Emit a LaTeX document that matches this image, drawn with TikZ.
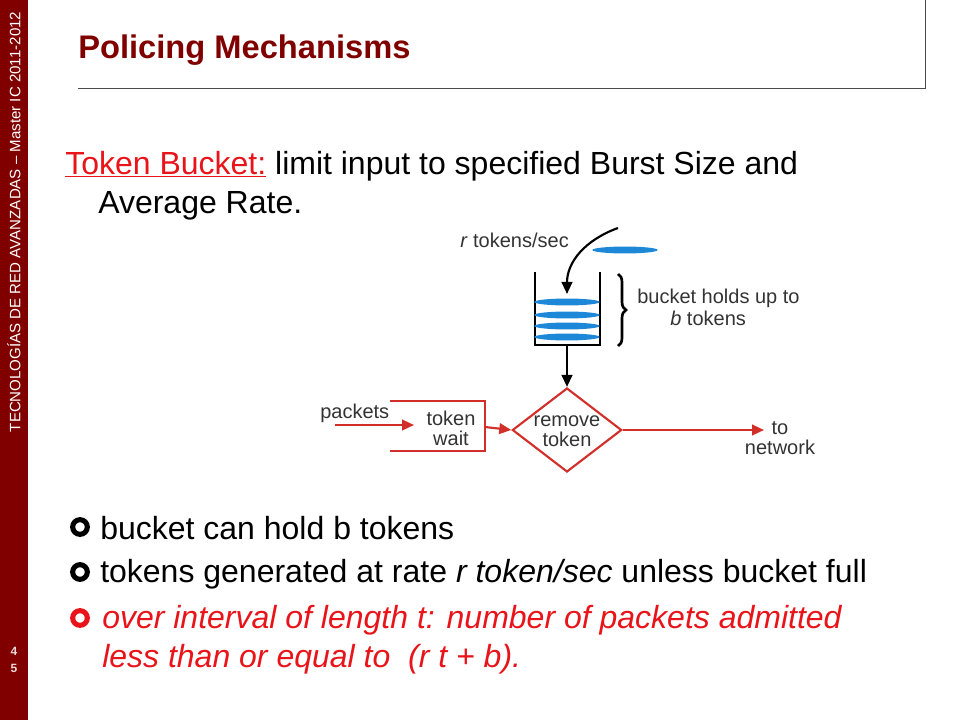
\documentclass[tikz,border=0pt]{standalone}
\usepackage{fontspec}
\setmainfont{Liberation Sans}
\usetikzlibrary{shapes.geometric,decorations.pathreplacing,arrows.meta}
\definecolor{dred}{HTML}{800000}
\definecolor{tred}{HTML}{E8141A}
\definecolor{dgr}{HTML}{D32F2A}
\definecolor{tblue}{HTML}{1E88D8}
\begin{document}
\begin{tikzpicture}[x=0.75pt,y=-0.75pt,
  body/.style={anchor=west,inner sep=0,font=\fontsize{24}{28}\selectfont},
  dlab/.style={inner sep=0,font=\fontsize{15}{15}\selectfont,text=black!80,align=center},
  bul/.style={circle,draw=#1,line width=3.8pt,minimum size=11pt,inner sep=0},
  tok/.style={ellipse,fill=tblue,minimum width=49pt,minimum height=5.2pt,inner sep=0},
  rarr/.style={draw=dgr,line width=1.6pt,-{Triangle[length=9pt,width=8pt]}},
  karr/.style={draw=black,line width=1.6pt,-{Triangle[length=9pt,width=8pt]}}]
\useasboundingbox (0,0) rectangle (960,720);
\fill[dred] (0,0) rectangle (28,720);
\node[rotate=90,text=white,inner sep=0,font=\fontsize{11.3}{13}\selectfont] (side) at (14,222) {TECNOLOGÍAS DE RED AVANZADAS – Master IC 2011-2012};
\node[text=white!85!dred,align=center,inner sep=0,font=\bfseries\fontsize{9}{13}\selectfont] (pg) at (14,660) {4\\5};
\node[anchor=west,inner sep=0,text=dred,font=\bfseries\fontsize{24.5}{28}\selectfont] (title) at (78,50) {Policing Mechanisms};
\draw[black!70] (78,88) -- (925,88) -- (925,0);
\node[body] (l1) at (65,166) {\textcolor{tred}{\underline{Token Bucket:}} limit input to specified Burst Size and};
\node[body] (l2) at (98,206) {Average Rate.};
% diagram
\node[dlab,anchor=west] (rt) at (460,240) {\textit{r} tokens/sec};
\node[tok] (t0) at (625,250) {};
\draw[line width=2pt] (535,272) -- (535,345) -- (600,345) -- (600,272);
\node[tok] (t1) at (567,302) {};
\node[tok] (t2) at (567,315) {};
\node[tok] (t3) at (567,326) {};
\node[tok] (t4) at (567,337) {};
\coordinate (cs) at (618,228);
\coordinate (ce) at (567,294);
\draw[karr] (cs) .. controls (585,240) and (567,262) .. (ce);
\draw[line width=2pt,decorate,decoration={brace,amplitude=6pt}] (618,274) -- (618,346);
\node[dlab,anchor=west] (bh) at (637,298) {bucket holds up to};
\node[dlab,anchor=west] (bt) at (670,318) {\textit{b} tokens};
\node[diamond,draw=dgr,line width=1.6pt,minimum width=82pt,minimum height=63pt,inner sep=0] (rm) at (567,430) {};
\node[dlab] (rmt) at (567,431) {remove\\token};
\coordinate (bb) at (567,345);
\draw[karr] (bb) -- (rm.north);
\draw[dgr,line width=1.6pt] (390,401) -- (485,401) -- (485,451) -- (390,451);
\coordinate (pin) at (335,425);
\coordinate (pend) at (414,425);
\draw[rarr] (pin) -- (pend);
\node[dlab,anchor=west] (pk) at (320,413) {packets};
\node[dlab] (tw) at (451,428) {token\\wait};
\coordinate (wout) at (485,427);
\draw[rarr] (wout) -- (rm.west);
\coordinate (net) at (764,430);
\draw[rarr] (rm.east) -- (net);
\node[dlab] (tn) at (780,438) {to\\network};
% bullets
\node[bul=black] (b1) at (80,527) {};
\node[body] (t1x) at (100,528) {bucket can hold b tokens};
\node[bul=black] (b2) at (80,572) {};
\node[body] (t2x) at (100,574) {tokens generated at rate \textit{r token/sec} unless bucket full};
\node[bul=tred] (b3) at (80,618) {};
\node[body,text=tred,font=\itshape\fontsize{24}{28}\selectfont] (t3x) at (102,620) {over interval of length t: number of packets admitted};
\node[body,text=tred,font=\itshape\fontsize{24}{28}\selectfont] (t4x) at (102,659) {less than or equal to ~(r t + b).};
\end{tikzpicture}
\end{document}
